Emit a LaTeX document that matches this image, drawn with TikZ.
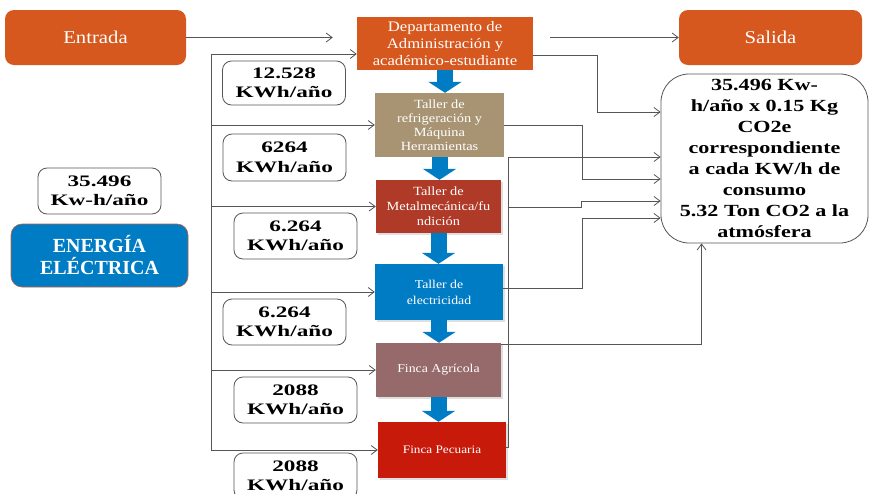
\documentclass[tikz,border=0pt]{standalone}
\usepackage{fontspec}
\setmainfont{Liberation Serif}[FakeStretch=1.15]
\newfontfamily\widebf{Liberation Serif}[FakeStretch=1.3]
\newfontfamily\datobf{Liberation Serif}[FakeStretch=1.45]
\newfontfamily\plainbf{Liberation Serif}
\usetikzlibrary{arrows.meta,shadows}

\definecolor{naranja}{RGB}{214,88,31}
\definecolor{tierra}{RGB}{168,148,114}
\definecolor{ladrillo}{RGB}{176,58,40}
\definecolor{azul}{RGB}{0,124,197}
\definecolor{malva}{RGB}{150,106,106}
\definecolor{rojo}{RGB}{200,26,10}
\definecolor{linea}{RGB}{85,85,85}
\definecolor{borde}{RGB}{190,95,60}

\begin{document}
\begin{tikzpicture}[x=1pt,y=-1pt,
    caja/.style={rectangle, text=white, align=center, inner sep=0pt},
    dato/.style={draw=linea, line width=0.8pt, rounded corners=9pt, fill=white, align=center,
        inner sep=0pt, minimum width=123pt, minimum height=46pt,
        font=\datobf\bfseries\fontsize{16}{19.5}\selectfont},
    flujo/.style={draw=linea, line width=0.8pt, -{Straight Barb[length=6pt,width=9pt]}},
    bajada/.style={draw=azul, line width=16pt, -{Triangle[width=33pt,length=11pt]}},
    sombra/.style={drop shadow={shadow xshift=1.5pt, shadow yshift=-1.5pt, opacity=0.25}}]
\clip (0,0) rectangle (870,493);

% Entrada and salida
\node[caja, fill=naranja, rounded corners=9pt, minimum width=181pt, minimum height=55pt,
    font=\fontsize{18}{21}\selectfont] (entrada) at (95.5,37.5) {Entrada};
\node[caja, fill=naranja, rounded corners=9pt, minimum width=183pt, minimum height=55pt,
    font=\fontsize{18}{21}\selectfont] (salida) at (770.5,37.5) {Salida};

% Departamento
\node[caja, fill=naranja, minimum width=176pt, minimum height=53pt,
    font=\fontsize{14.5}{17}\selectfont] (dept) at (445,43.5)
    {Departamento de\\Administración y\\académico-estudiante};

% Talleres y fincas
\node[caja, fill=tierra, minimum width=129pt, minimum height=64pt,
    font=\fontsize{12.5}{14}\selectfont] (refrig) at (439.5,125)
    {Taller de\\refrigeración y\\Máquina\\Herramientas};
\node[caja, sombra, fill=ladrillo, minimum width=125pt, minimum height=53pt,
    font=\fontsize{12.5}{15}\selectfont] (metal) at (438.5,206.5)
    {Taller de\\Metalmecánica/fu\\ndición};
\node[caja, sombra, fill=azul, minimum width=128pt, minimum height=56pt,
    font=\fontsize{12}{16}\selectfont] (elec) at (439,292) {Taller de\\electricidad};
\node[caja, sombra, fill=malva, minimum width=125pt, minimum height=54pt,
    font=\fontsize{12}{14}\selectfont] (agri) at (438.5,370) {Finca Agrícola};
\node[caja, sombra, fill=rojo, minimum width=128pt, minimum height=56pt,
    font=\fontsize{11.5}{14}\selectfont] (pecu) at (442,450) {Finca Pecuaria};

% Energia electrica
\node[dato] (total) at (99.5,191) {35.496\\Kw-h/año};
\node[caja, fill=azul, draw=borde, line width=0.6pt, rounded corners=11pt,
    minimum width=177pt, minimum height=63pt,
    font=\plainbf\bfseries\fontsize{20}{22}\selectfont] (energia) at (99.5,255.5)
    {ENERGÍA\\ELÉCTRICA};

% Consumos
\node[dato, minimum height=44pt] (c1) at (284,83) {12.528\\KWh/año};
\node[dato, minimum height=47pt] (c2) at (284.5,157.5) {6264\\KWh/año};
\node[dato] (c3) at (295.5,236) {6.264\\KWh/año};
\node[dato] (c4) at (284.5,322) {6.264\\KWh/año};
\node[dato] (c5) at (295.5,400) {2088\\KWh/año};
\node[dato] (c6) at (295.5,476) {2088\\KWh/año};

% Resultado
\node[draw=linea, line width=0.8pt, rounded corners=28pt, fill=white, align=center,
    inner sep=0pt, minimum width=207pt, minimum height=169pt,
    font=\widebf\bfseries\fontsize{17}{21}\selectfont] (res) at (764.5,158.5)
    {35.496 Kw-\\h/año x 0.15 Kg\\CO2e\\correspondiente\\a cada KW/h de\\consumo\\5.32 Ton CO2 a la\\atmósfera};

% Flechas azules
\draw[bajada] (dept.south) -- (dept.south |- refrig.north);
\draw[bajada] (refrig.south) -- (refrig.south |- metal.north);
\draw[bajada] (metal.south) -- (metal.south |- elec.north);
\draw[bajada] (elec.south) -- (elec.south |- agri.north);
\draw[bajada] (agri.south) -- (agri.south |- pecu.north);

% Entrada y salida
\draw[flujo, shorten >=24pt] (entrada.east) -- (entrada.east -| dept.west);
\draw[flujo, shorten <=17pt] (dept.east |- salida.west) -- (salida.west);

% Reparto de energia
\coordinate (bus) at (211,54);
\draw[flujo] (bus |- pecu.west) -- (bus) -- (dept.west |- bus);
\draw[flujo] (bus |- refrig.west) -- (refrig.west);
\draw[flujo] (bus |- metal.west) -- (metal.west);
\draw[flujo] (bus |- elec.west) -- (elec.west);
\draw[flujo] (bus |- agri.west) -- (agri.west);
\draw[flujo] (bus |- pecu.west) -- (pecu.west);

% Emisiones
\draw[flujo] ([yshift=-11.5pt]dept.east) -- ++(64,0) |- ([yshift=46.5pt]res.west);
\draw[flujo] (refrig.east) -- ++(78,0) |- ([yshift=-20.5pt]res.west);
\draw[flujo] ([xshift=6.5pt,yshift=-0.5pt]metal.east) -- ++(74,0) |- ([yshift=-42.5pt]res.west);
\draw[flujo] ([yshift=4pt]elec.east) -- ++(79,0) |- ([yshift=-59.5pt]res.west);
\draw[flujo] ([yshift=3pt]pecu.east) -- ++(2,0) |- ([yshift=1.5pt]res.west);
\draw[flujo] ([yshift=-2pt]agri.north east) -| ([xshift=41pt]res.south west);
\end{tikzpicture}
\end{document}
